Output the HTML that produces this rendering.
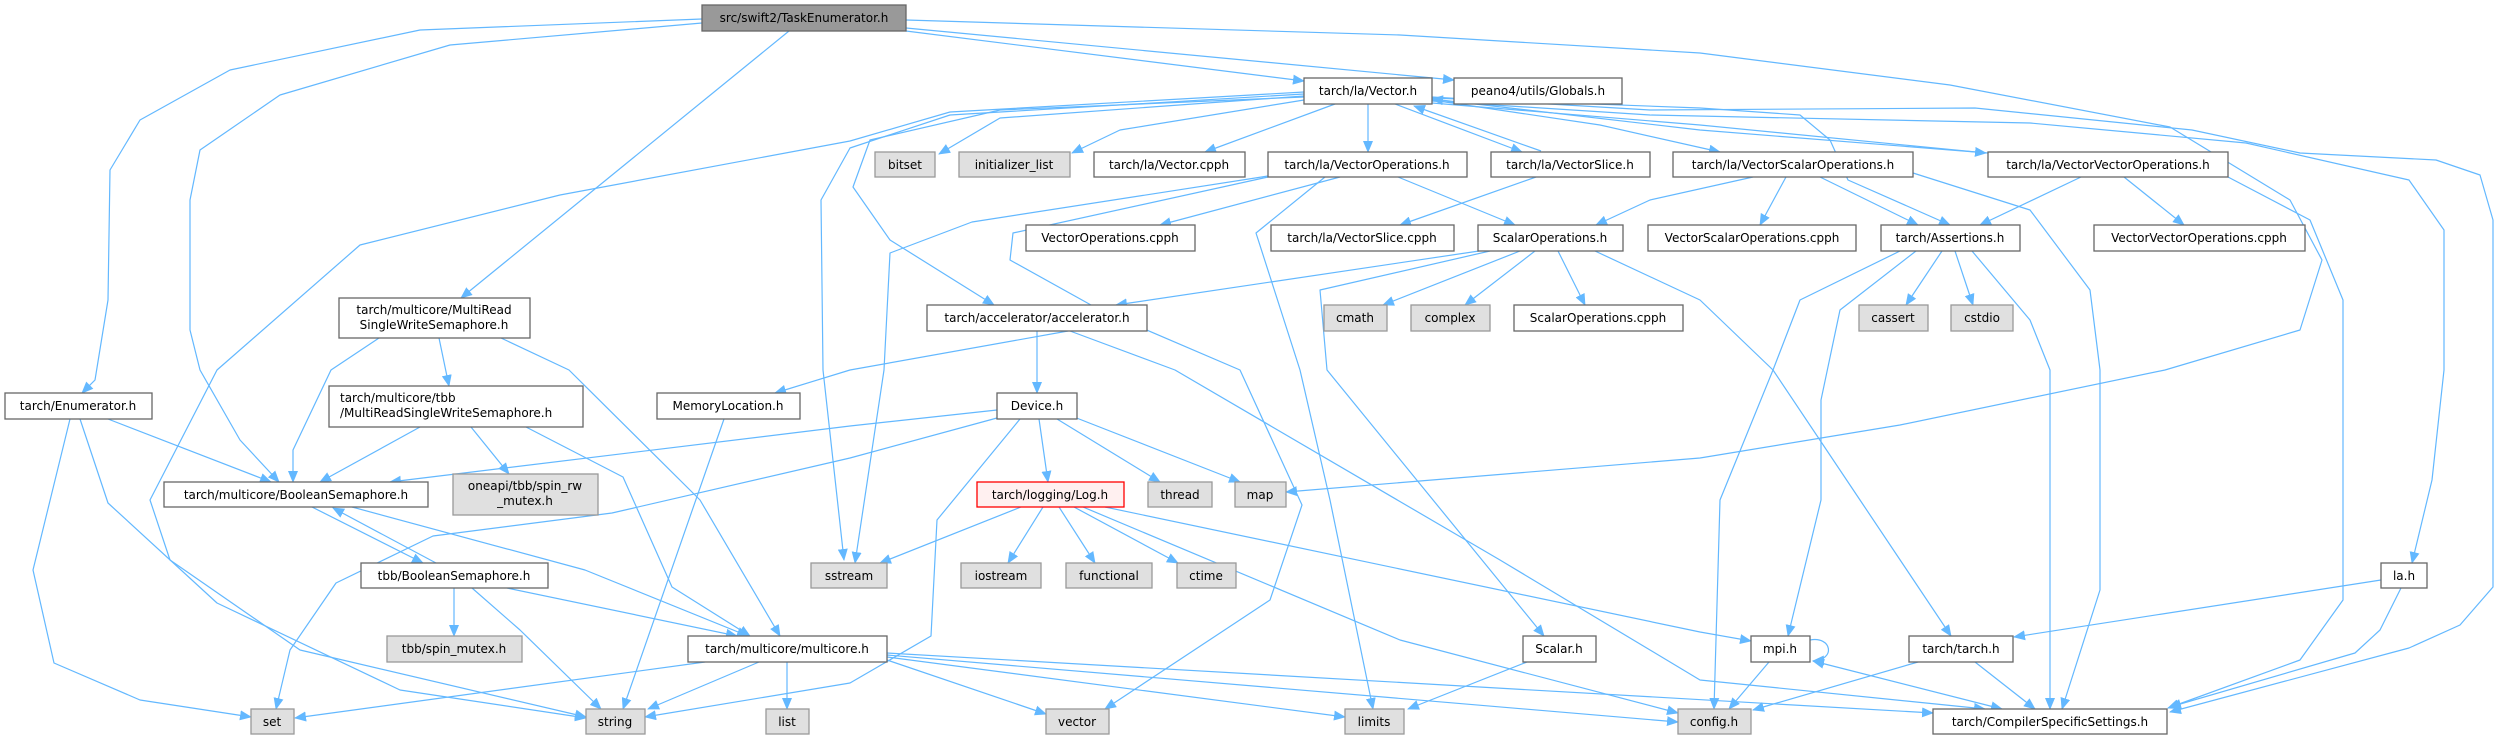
<!DOCTYPE html>
<html><head><meta charset="utf-8">
<style>
html,body{margin:0;padding:0;background:#fff;}
svg{display:block;}
text{font-family:"DejaVu Sans","Liberation Sans",sans-serif;font-size:12px;fill:#000;}
.e{fill:none;stroke:#63b8ff;stroke-width:1.2;stroke-linejoin:round;marker-end:url(#a);}
.n{fill:#fff;stroke:#666;stroke-width:1.3;}
.g{fill:#e0e0e0;stroke:#999;stroke-width:1.3;}
</style></head><body>
<svg width="2500" height="740" viewBox="0 0 2500 740" xmlns="http://www.w3.org/2000/svg">
<defs>
<marker id="a" markerUnits="userSpaceOnUse" markerWidth="12" markerHeight="10" refX="11" refY="5" orient="auto">
<path d="M0,0 L12,5 L0,10 z" fill="#63b8ff"/>
</marker>
<marker id="s" markerUnits="userSpaceOnUse" markerWidth="12" markerHeight="10" refX="1" refY="5" orient="auto">
<path d="M12,0 L0,5 L12,10 z" fill="#63b8ff"/>
</marker>
</defs>

<!-- edges -->
<g>
<!-- root -->
<polyline class="e" points="702,19 420,30 230,70 140,120 110,170 108,300 95,380 82,393"/>
<polyline class="e" points="702,23 450,45 280,95 200,150 190,200 190,330 200,370 240,440 279,482"/>
<polyline class="e" points="789,31 461,298"/>
<polyline class="e" points="898,30 1304,81"/>
<polyline class="e" points="906,28 1454,80"/>
<polyline class="e" points="906,20 1400,35 1700,53 1950,85 2170,127 2290,200 2322,260 2300,330 2165,370 1900,425 1700,458 1286,492"/>
<!-- Vector.h -->
<polyline class="e" points="1304,96 1000,118 939,154"/>
<polyline class="e" points="1304,100 1120,130 1072,153"/>
<polyline class="e" points="1335,104 1205,152"/>
<polyline class="e" points="1368,104 1368,152"/>
<polyline class="e" points="1395,104 1522,152"/>
<polyline class="e" points="1541,151 1414,106"/>
<polyline class="e" points="1432,100 1600,125 1720,152"/>
<polyline class="e" points="1432,103 1700,125 1986,153"/>
<polyline class="e" points="1988,153 1700,130 1432,99"/>
<polyline class="e" points="1432,98 1700,108 1800,115 1830,140 1848,180 1950,225"/>
<polyline class="e" points="1304,97 1000,110 870,140 853,187 890,240 994,305"/>
<polyline class="e" points="1304,94 950,115 850,148 821,200 823,370 844,560"/>
<polyline class="e" points="1304,92 950,112 850,141 560,195 360,245 217,370 150,500 170,560 300,650 586,717"/>
<polyline class="e" points="1432,97 1650,110 1975,108 2192,130 2300,153 2436,160 2480,175 2493,220 2493,587 2460,625 2409,648 2170,712"/>
<polyline class="e" points="1432,101 1650,115 2030,123 2246,143 2409,180 2444,230 2444,370 2432,480 2412,563"/>
<!-- VectorOperations -->
<polyline class="e" points="1340,177 1160,225"/>
<polyline class="e" points="1398,177 1515,225"/>
<polyline class="e" points="1268,176 972,222 890,253 884,370 855,563"/>
<polyline class="e" points="1268,177 1013,233 1010,260 1100,310 1240,370 1302,505 1270,600 1105,709"/>
<polyline class="e" points="1325,177 1256,233 1300,370 1330,500 1373,709"/>
<!-- VectorSlice -->
<polyline class="e" points="1536,177 1400,225"/>
<!-- VectorScalarOperations -->
<polyline class="e" points="1753,177 1650,200 1596,225"/>
<polyline class="e" points="1786,177 1760,225"/>
<polyline class="e" points="1820,177 1918,225"/>
<polyline class="e" points="1913,173 2030,210 2090,290 2100,370 2100,590 2062,709"/>
<!-- VectorVectorOperations -->
<polyline class="e" points="2081,177 1980,225"/>
<polyline class="e" points="2124,177 2184,225"/>
<polyline class="e" points="2228,177 2310,220 2343,300 2343,600 2300,660 2168,708"/>
<!-- ScalarOperations -->
<polyline class="e" points="1479,251 1116,305"/>
<polyline class="e" points="1520,251 1383,305"/>
<polyline class="e" points="1535,251 1465,305"/>
<polyline class="e" points="1558,251 1585,305"/>
<polyline class="e" points="1490,251 1320,290 1327,370 1544,636"/>
<polyline class="e" points="1595,251 1700,300 1773,370 1860,500 1951,636"/>
<!-- Assertions -->
<polyline class="e" points="1942,251 1906,305"/>
<polyline class="e" points="1955,251 1973,305"/>
<polyline class="e" points="1900,251 1800,300 1773,370 1720,500 1714,709"/>
<polyline class="e" points="1916,251 1840,310 1821,400 1821,500 1788,636"/>
<polyline class="e" points="1972,251 2030,320 2050,370 2050,709"/>
<!-- accelerator -->
<polyline class="e" points="1068,331 850,370 775,393"/>
<polyline class="e" points="1037,331 1037,393"/>
<polyline class="e" points="1070,331 1175,370 1500,560 1700,680 1985,709"/>
<!-- MemoryLocation -->
<polyline class="e" points="724,419 623,709"/>
<!-- Device -->
<polyline class="e" points="997,410 850,426 390,482"/>
<polyline class="e" points="997,418 850,458 612,513 433,536 336,583 290,650 276,709"/>
<polyline class="e" points="1020,419 937,520 931,636 850,683 645,717"/>
<polyline class="e" points="1039,419 1048,482"/>
<polyline class="e" points="1057,419 1160,482"/>
<polyline class="e" points="1074,417 1240,482"/>
<!-- Log -->
<polyline class="e" points="1021,507 880,563"/>
<polyline class="e" points="1043,507 1008,563"/>
<polyline class="e" points="1059,507 1095,563"/>
<polyline class="e" points="1074,507 1178,563"/>
<polyline class="e" points="1105,507 1700,632 1751,641"/>
<polyline class="e" points="1083,507 1400,640 1678,713"/>
<!-- Enumerator -->
<polyline class="e" points="108,419 271,482"/>
<polyline class="e" points="70,419 33,570 54,663 140,700 251,717"/>
<polyline class="e" points="80,419 108,503 217,603 400,690 586,718"/>
<!-- MultiRead -->
<polyline class="e" points="379,338 331,370 293,450 293,482"/>
<polyline class="e" points="439,338 449,386"/>
<polyline class="e" points="501,338 569,370 700,500 780,636"/>
<!-- tbb MultiRead -->
<polyline class="e" points="420,427 320,482"/>
<polyline class="e" points="471,427 509,474"/>
<polyline class="e" points="526,427 623,477 672,587 750,636"/>
<!-- BooleanSemaphore -->
<polyline class="e" points="312,507 423,563"/>
<polyline class="e" points="436,563 333,508"/>
<polyline class="e" points="352,507 585,570 748,636"/>
<!-- tbb BooleanSemaphore -->
<polyline class="e" points="454,588 454,636"/>
<polyline class="e" points="472,588 520,630 601,709"/>
<polyline class="e" points="507,588 737,636"/>
<!-- multicore -->
<polyline class="e" points="705,662 295,718"/>
<polyline class="e" points="759,662 648,709"/>
<polyline class="e" points="787,662 787,709"/>
<polyline class="e" points="887,660 1046,714"/>
<polyline class="e" points="887,657 1345,717"/>
<polyline class="e" points="887,655 1678,722"/>
<polyline class="e" points="887,653 1933,713"/>
<!-- Scalar -->
<polyline class="e" points="1527,662 1408,709"/>
<!-- mpi -->
<path class="e" d="M1810,640 C1832,636 1836,660 1813,661"/>
<polyline class="e" points="1769,662 1729,709"/>
<polyline class="e" style="marker-start:url(#s)" points="1813,661 2002,709"/>
<!-- tarch -->
<polyline class="e" points="1918,662 1753,710"/>
<polyline class="e" points="1975,662 2035,709"/>
<!-- la -->
<polyline class="e" points="2381,580 2014,637"/>
<polyline class="e" points="2401,588 2380,630 2355,653 2170,707"/>
</g>

<!-- nodes -->
<g>
<rect x="702" y="5" width="204" height="26" fill="#999" stroke="#666" stroke-width="1.3"/>
<text x="804" y="22" text-anchor="middle">src/swift2/TaskEnumerator.h</text>

<rect class="n" x="1304" y="78" width="128" height="26"/><text x="1368" y="95" text-anchor="middle">tarch/la/Vector.h</text>
<rect class="n" x="1454" y="78" width="168" height="26"/><text x="1538" y="95" text-anchor="middle">peano4/utils/Globals.h</text>

<rect class="g" x="875" y="152" width="60" height="25"/><text x="905" y="169" text-anchor="middle">bitset</text>
<rect class="g" x="959" y="152" width="111" height="25"/><text x="1014" y="169" text-anchor="middle">initializer_list</text>
<rect class="n" x="1094" y="152" width="151" height="25"/><text x="1169" y="169" text-anchor="middle">tarch/la/Vector.cpph</text>
<rect class="n" x="1268" y="152" width="199" height="25"/><text x="1367" y="169" text-anchor="middle">tarch/la/VectorOperations.h</text>
<rect class="n" x="1491" y="152" width="159" height="25"/><text x="1570" y="169" text-anchor="middle">tarch/la/VectorSlice.h</text>
<rect class="n" x="1673" y="152" width="240" height="25"/><text x="1793" y="169" text-anchor="middle">tarch/la/VectorScalarOperations.h</text>
<rect class="n" x="1988" y="152" width="240" height="25"/><text x="2108" y="169" text-anchor="middle">tarch/la/VectorVectorOperations.h</text>

<rect class="n" x="339" y="298" width="191" height="40"/>
<text x="434" y="314" text-anchor="middle">tarch/multicore/MultiRead</text>
<text x="434" y="329" text-anchor="middle">SingleWriteSemaphore.h</text>

<rect class="n" x="1026" y="225" width="169" height="26"/><text x="1110" y="242" text-anchor="middle">VectorOperations.cpph</text>
<rect class="n" x="1271" y="225" width="183" height="26"/><text x="1362" y="242" text-anchor="middle">tarch/la/VectorSlice.cpph</text>
<rect class="n" x="1478" y="225" width="145" height="26"/><text x="1550" y="242" text-anchor="middle">ScalarOperations.h</text>
<rect class="n" x="1648" y="225" width="208" height="26"/><text x="1752" y="242" text-anchor="middle">VectorScalarOperations.cpph</text>
<rect class="n" x="1881" y="225" width="139" height="26"/><text x="1950" y="242" text-anchor="middle">tarch/Assertions.h</text>
<rect class="n" x="2094" y="225" width="211" height="26"/><text x="2199" y="242" text-anchor="middle">VectorVectorOperations.cpph</text>

<rect class="n" x="927" y="305" width="220" height="26"/><text x="1037" y="322" text-anchor="middle">tarch/accelerator/accelerator.h</text>
<rect class="g" x="1324" y="305" width="63" height="26"/><text x="1355" y="322" text-anchor="middle">cmath</text>
<rect class="g" x="1411" y="305" width="79" height="26"/><text x="1450" y="322" text-anchor="middle">complex</text>
<rect class="n" x="1514" y="305" width="169" height="26"/><text x="1598" y="322" text-anchor="middle">ScalarOperations.cpph</text>
<rect class="g" x="1859" y="305" width="69" height="26"/><text x="1893" y="322" text-anchor="middle">cassert</text>
<rect class="g" x="1951" y="305" width="62" height="26"/><text x="1982" y="322" text-anchor="middle">cstdio</text>

<rect class="n" x="5" y="393" width="147" height="26"/><text x="78" y="410" text-anchor="middle">tarch/Enumerator.h</text>
<rect class="n" x="329" y="386" width="254" height="41"/>
<text x="340" y="402">tarch/multicore/tbb</text>
<text x="340" y="417">/MultiReadSingleWriteSemaphore.h</text>
<rect class="n" x="657" y="393" width="143" height="26"/><text x="728" y="410" text-anchor="middle">MemoryLocation.h</text>
<rect class="n" x="997" y="393" width="80" height="26"/><text x="1037" y="410" text-anchor="middle">Device.h</text>

<rect class="n" x="164" y="482" width="264" height="25"/><text x="296" y="499" text-anchor="middle">tarch/multicore/BooleanSemaphore.h</text>
<rect class="g" x="453" y="474" width="145" height="41"/>
<text x="525" y="490" text-anchor="middle">oneapi/tbb/spin_rw</text>
<text x="525" y="505" text-anchor="middle">_mutex.h</text>
<rect x="977" y="482" width="147" height="25" fill="#fff0f0" stroke="#ff0000" stroke-width="1.3"/><text x="1050" y="499" text-anchor="middle">tarch/logging/Log.h</text>
<rect class="g" x="1148" y="482" width="64" height="25"/><text x="1180" y="499" text-anchor="middle">thread</text>
<rect class="g" x="1235" y="482" width="51" height="25"/><text x="1260" y="499" text-anchor="middle">map</text>

<rect class="n" x="361" y="563" width="187" height="25"/><text x="454" y="580" text-anchor="middle">tbb/BooleanSemaphore.h</text>
<rect class="g" x="811" y="563" width="76" height="25"/><text x="849" y="580" text-anchor="middle">sstream</text>
<rect class="g" x="961" y="563" width="80" height="25"/><text x="1001" y="580" text-anchor="middle">iostream</text>
<rect class="g" x="1066" y="563" width="86" height="25"/><text x="1109" y="580" text-anchor="middle">functional</text>
<rect class="g" x="1177" y="563" width="59" height="25"/><text x="1206" y="580" text-anchor="middle">ctime</text>
<rect class="n" x="2381" y="563" width="46" height="25"/><text x="2404" y="580" text-anchor="middle">la.h</text>

<rect class="g" x="387" y="636" width="135" height="26"/><text x="454" y="653" text-anchor="middle">tbb/spin_mutex.h</text>
<rect class="n" x="688" y="636" width="199" height="26"/><text x="787" y="653" text-anchor="middle">tarch/multicore/multicore.h</text>
<rect class="n" x="1523" y="636" width="73" height="26"/><text x="1559" y="653" text-anchor="middle">Scalar.h</text>
<rect class="n" x="1751" y="636" width="59" height="26"/><text x="1780" y="653" text-anchor="middle">mpi.h</text>
<rect class="n" x="1909" y="636" width="104" height="26"/><text x="1961" y="653" text-anchor="middle">tarch/tarch.h</text>

<rect class="g" x="251" y="709" width="43" height="25"/><text x="272" y="726" text-anchor="middle">set</text>
<rect class="g" x="586" y="709" width="59" height="25"/><text x="615" y="726" text-anchor="middle">string</text>
<rect class="g" x="766" y="709" width="43" height="25"/><text x="787" y="726" text-anchor="middle">list</text>
<rect class="g" x="1046" y="709" width="63" height="25"/><text x="1077" y="726" text-anchor="middle">vector</text>
<rect class="g" x="1345" y="709" width="59" height="25"/><text x="1374" y="726" text-anchor="middle">limits</text>
<rect class="g" x="1678" y="709" width="73" height="25"/><text x="1714" y="726" text-anchor="middle">config.h</text>
<rect class="n" x="1933" y="709" width="234" height="25"/><text x="2050" y="726" text-anchor="middle">tarch/CompilerSpecificSettings.h</text>
</g>
</svg>
</body></html>
